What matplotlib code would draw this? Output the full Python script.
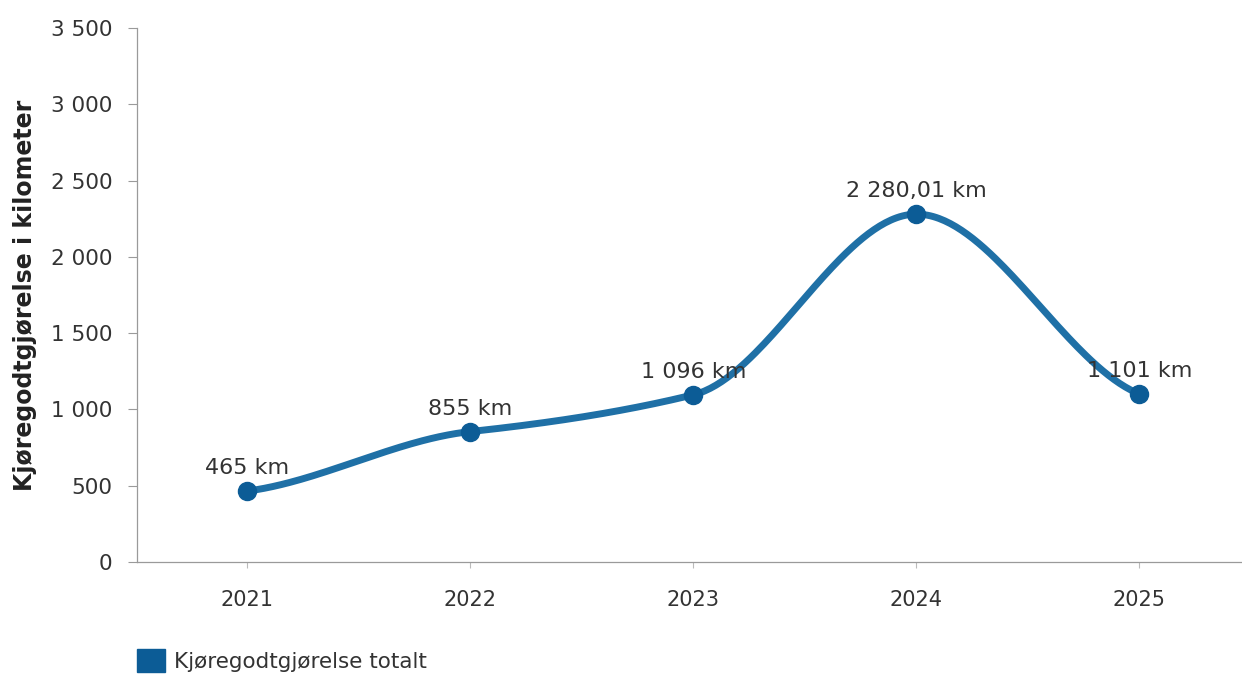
import numpy as np
import matplotlib.pyplot as plt
from matplotlib.patches import Patch

# Data
years = ["2021", "2022", "2023", "2024", "2025"]
km = [465, 855, 1096, 2280.01, 1101]
labels = ["465 km", "855 km", "1 096 km", "2 280,01 km", "1 101 km"]

line_color = "#1f70a6"
dot_color = "#0c5c96"


def smooth(x, y, tension=0.5, n=80):
    # cardinal spline through the points (smoothed line)
    x = np.asarray(x, float)
    y = np.asarray(y, float)
    py = np.concatenate([[2 * y[0] - y[1]], y, [2 * y[-1] - y[-2]]])
    m = (1 - tension) * (py[2:] - py[:-2]) / 2
    xs, ys = [], []
    t = np.linspace(0, 1, n)
    h00 = 2 * t**3 - 3 * t**2 + 1
    h10 = t**3 - 2 * t**2 + t
    h01 = -2 * t**3 + 3 * t**2
    h11 = t**3 - t**2
    for i in range(len(x) - 1):
        dx = x[i + 1] - x[i]
        xs.append(x[i] + t * dx)
        ys.append(h00 * y[i] + h10 * m[i] + h01 * y[i + 1] + h11 * m[i + 1])
    return np.concatenate(xs), np.concatenate(ys)


fig = plt.figure(figsize=(12.42, 6.75), dpi=100)
ax = fig.add_axes([0.1103, 0.1674, 0.8897, 0.7911])

pos = np.arange(len(years))
sx, sy = smooth(pos, km)
ax.plot(sx, sy, color=line_color, lw=5, solid_capstyle="round", zorder=2)
ax.plot(pos, km, "o", color=dot_color, ms=13, zorder=3)

for x, y, t in zip(pos, km, labels):
    ax.annotate(t, (x, y), xytext=(0, 12), textcoords="offset points",
                ha="center", va="baseline", fontsize=16, color="#333333")

ax.set_xlim(-0.495, 4.46)
ax.set_ylim(0, 3500)
ax.set_yticks(range(0, 3501, 500))
ax.set_yticklabels([f"{v:,}".replace(",", " ") for v in range(0, 3501, 500)])
ax.set_xticks(pos)
ax.set_xticklabels(years)

for s in ["top", "right"]:
    ax.spines[s].set_visible(False)
for s in ["left", "bottom"]:
    ax.spines[s].set_color("#9a9a9a")
    ax.spines[s].set_linewidth(0.9)

ax.tick_params(axis="y", length=6.5, width=0.8, color="#9a9a9a", pad=11,
               labelsize=15.5, labelcolor="#333333")
ax.tick_params(axis="x", length=4, width=0.8, color="#bbbbbb", pad=16,
               labelsize=15, labelcolor="#333333")

ax.set_ylabel("Kjøregodtgjørelse i kilometer", fontsize=17,
              fontweight="bold", color="#222222", labelpad=10)

fig.legend(handles=[Patch(color=dot_color, label="Kjøregodtgjørelse totalt")],
           loc="lower left", bbox_to_anchor=(0.1014, -0.012), frameon=False,
           borderpad=0, fontsize=15.5, handlelength=1.3, handleheight=1.3,
           handletextpad=0.45, labelcolor="#333333")

fig.savefig("out.png", dpi=100)
